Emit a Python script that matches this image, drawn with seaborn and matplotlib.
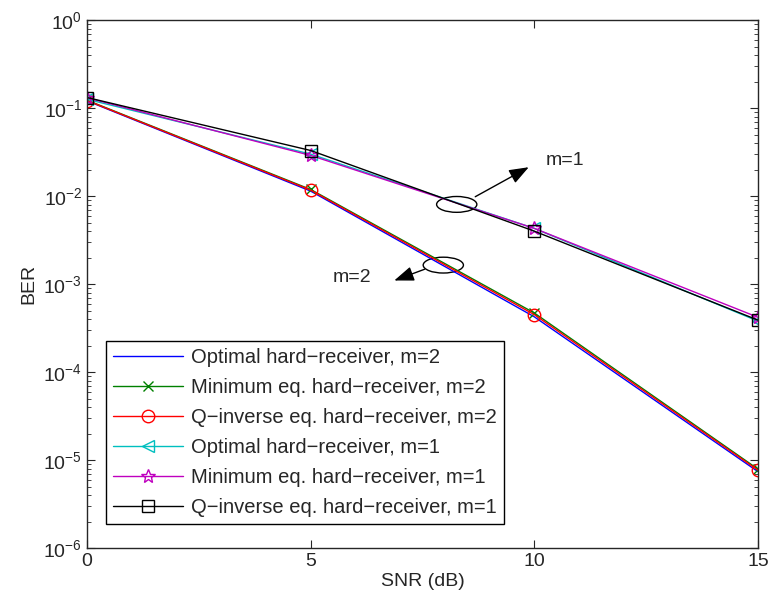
import matplotlib
matplotlib.use("Agg")
import matplotlib.pyplot as plt
import seaborn as sns
import pandas as pd
from matplotlib.patches import Ellipse

snr = [0, 5, 10, 15]

opt_m2 = [0.121, 0.0114, 4.25e-4, 7.4e-6]
min_m2 = [0.123, 0.0119, 4.7e-4, 7.9e-6]
qinv_m2 = [0.122, 0.0117, 4.5e-4, 7.7e-6]
opt_m1 = [0.126, 0.0300, 4.3e-3, 3.8e-4]
min_m1 = [0.131, 0.0290, 4.3e-3, 4.2e-4]
qinv_m1 = [0.132, 0.0330, 4.0e-3, 3.9e-4]

labels = [
    "Optimal hard\u2212receiver, m=2",
    "Minimum eq. hard\u2212receiver, m=2",
    "Q\u2212inverse eq. hard\u2212receiver, m=2",
    "Optimal hard\u2212receiver, m=1",
    "Minimum eq. hard\u2212receiver, m=1",
    "Q\u2212inverse eq. hard\u2212receiver, m=1",
]
series = [opt_m2, min_m2, qinv_m2, opt_m1, min_m1, qinv_m1]
colors = ["#0000ff", "#008000", "#ff0000", "#00bfbf", "#bf00bf", "#000000"]
markers = ["", "x", "o", "<", "*", "s"]
msizes = [0, 7, 9, 9, 10, 8]

sns.set_style("ticks")
plt.rcParams["font.family"] = ["Liberation Sans", "DejaVu Sans"]
plt.rcParams["mathtext.fontset"] = "custom"
plt.rcParams["mathtext.rm"] = "Liberation Sans"

fig = plt.figure(figsize=(7.71, 6.11), dpi=100)
ax = fig.add_axes([0.113, 0.103, 0.870, 0.864])

for lab, vals, col, mk, ms in zip(labels, series, colors, markers, msizes):
    df = pd.DataFrame({"SNR": snr, "BER": vals})
    sns.lineplot(data=df, x="SNR", y="BER", ax=ax, color=col, label=lab,
                 marker=mk if mk else None, markersize=ms, linewidth=1,
                 markerfacecolor="none", markeredgecolor=col, markeredgewidth=1)

ax.set_yscale("log")
ax.set_xlim(0, 15)
ax.set_ylim(1e-6, 1)
ax.set_xticks([0, 5, 10, 15])
ax.set_xlabel("SNR (dB)", fontsize=14, labelpad=2)
ax.set_ylabel("BER", fontsize=14, labelpad=4)
ax.tick_params(direction="in", which="both", top=True, right=True, labelsize=14)
ax.tick_params(which="major", length=6)
ax.tick_params(which="minor", length=3)
for sp in ax.spines.values():
    sp.set_visible(True)
    sp.set_linewidth(1)

# annotations
ax.add_patch(Ellipse((0.551, 0.651), 0.06, 0.03, transform=ax.transAxes,
                     fill=False, edgecolor="black", linewidth=1))
ax.add_patch(Ellipse((0.531, 0.536), 0.06, 0.03, transform=ax.transAxes,
                     fill=False, edgecolor="black", linewidth=1))
ax.annotate("", xy=(0.662, 0.724), xytext=(0.575, 0.663), xycoords="axes fraction",
            arrowprops=dict(arrowstyle="-|>,head_length=1.2,head_width=0.45",
                            color="black", lw=1))
ax.annotate("", xy=(0.454, 0.505), xytext=(0.507, 0.530), xycoords="axes fraction",
            arrowprops=dict(arrowstyle="-|>,head_length=1.2,head_width=0.45",
                            color="black", lw=1))
ax.text(0.683, 0.735, "m=1", transform=ax.transAxes, fontsize=14, ha="left", va="center")
ax.text(0.395, 0.513, "m=2", transform=ax.transAxes, fontsize=14, ha="center", va="center")

leg = ax.legend(loc="lower left", bbox_to_anchor=(0.028, 0.045), fontsize=14.5,
                frameon=True, fancybox=False, edgecolor="black", framealpha=1,
                handlelength=3.5, borderpad=0.35, labelspacing=0.55, handletextpad=0.4,
                borderaxespad=0)
leg.get_frame().set_linewidth(1)

fig.savefig("out.png", dpi=100)
